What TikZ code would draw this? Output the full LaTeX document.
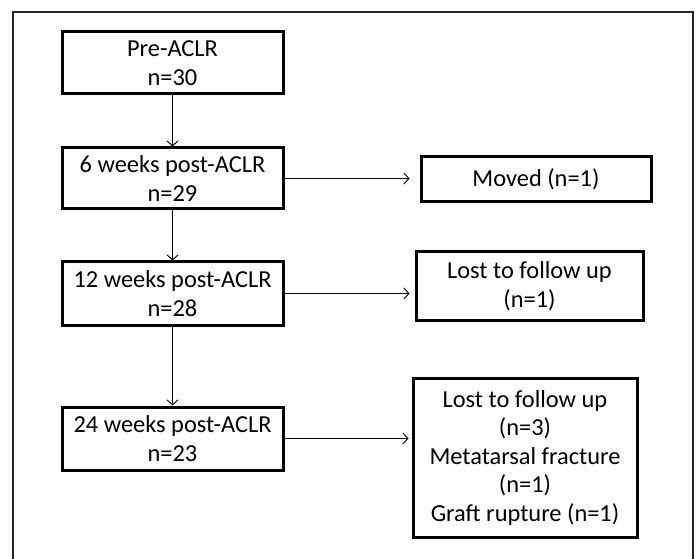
\documentclass[tikz,border=0pt]{standalone}
\usepackage{fontspec}
\setmainfont{Carlito}
\usetikzlibrary{arrows.meta}

\begin{document}
\begin{tikzpicture}[x=1pt,y=-1pt]
  \tikzset{
    flow_box/.style={
      draw, line width=3pt, align=center, inner sep=0pt,
      font=\fontsize{24.4}{28.5}\selectfont
    },
    main_box/.style={flow_box, minimum width=221pt},
    flow_arrow/.style={
      line width=0.9pt, -{Straight Barb[length=5pt, width=11pt, line width=0.9pt]}
    }
  }

  % canvas
  \useasboundingbox (0,0) rectangle (697,559);

  % outer frame
  \draw[line width=2pt, black!85] (13,559) -- (13,12) -- (693,12) -- (693,559);

  % time points
  \node[main_box, minimum height=62pt] (pre_aclr) at (172.5,63) {Pre-ACLR\\n=30};
  \node[main_box, minimum height=61pt] (wk_6) at (172.5,178.5) {6 weeks post-ACLR\\n=29};
  \node[main_box, minimum height=63pt] (wk_12) at (172.5,293.5) {12 weeks post-ACLR\\n=28};
  \node[main_box, minimum height=63pt] (wk_24) at (172.5,438.5) {24 weeks post-ACLR\\n=23};

  % drop outs
  \node[flow_box, minimum width=230pt, minimum height=45pt] (moved) at (536,179.5) {Moved (n=1)};
  \node[flow_box, minimum width=227pt, minimum height=68pt] (lost) at (529.5,286) {Lost to follow up\\(n=1)};
  \node[flow_box, minimum width=224pt, minimum height=159pt] (excluded) at (525,457.5)
    {Lost to follow up\\(n=3)\\Metatarsal fracture\\(n=1)\\Graft rupture (n=1)};

  % arrows down
  \draw[flow_arrow] (pre_aclr) -- (wk_6);
  \draw[flow_arrow] (wk_6) -- (wk_12);
  \draw[flow_arrow] (wk_12) -- (wk_24);

  % arrows right
  \draw[flow_arrow, shorten >=10pt] (wk_6.east) -- (wk_6.east -| moved.west);
  \draw[flow_arrow, shorten >=5pt] (wk_12.east) -- (wk_12.east -| lost.west);
  \draw[flow_arrow, shorten >=3pt] (wk_24.east) -- (wk_24.east -| excluded.west);
\end{tikzpicture}
\end{document}
